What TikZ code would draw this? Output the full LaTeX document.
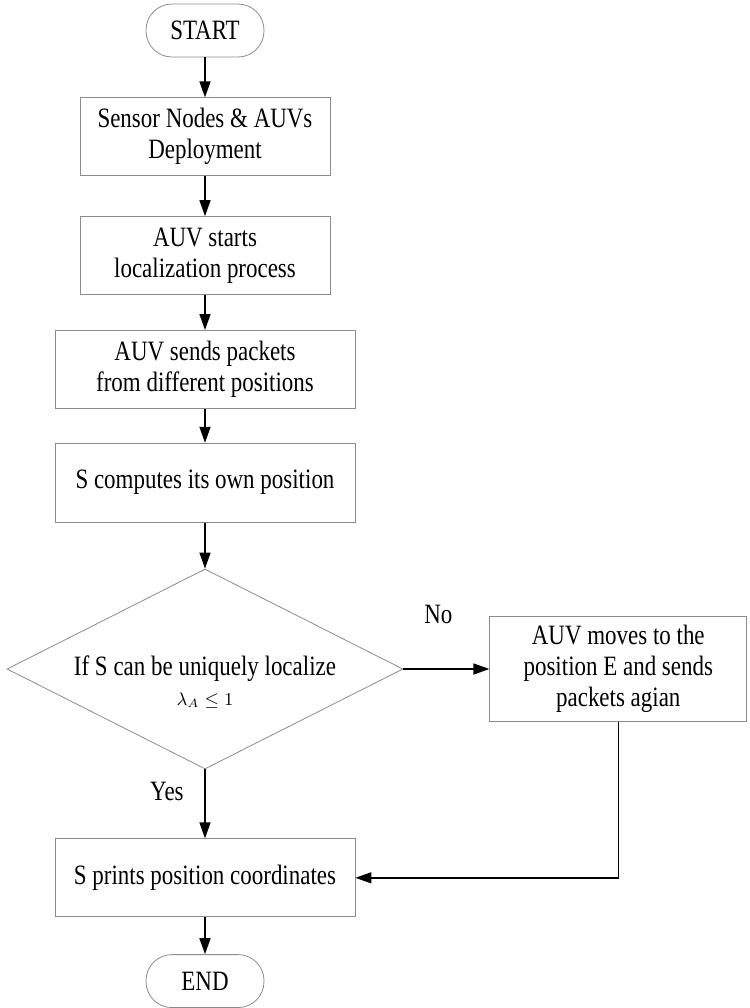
\documentclass[tikz,border=0pt]{standalone}
\usepackage{amsmath,amssymb}
\usepackage{fontspec}
\setmainfont{Liberation Serif}[FakeStretch=0.82]
\usepackage{xcolor}
\usetikzlibrary{shapes,arrows.meta,positioning,calc}
\definecolor{edgegray}{RGB}{140,140,140}

\begin{document}
\begin{tikzpicture}[x=0.5pt,y=0.5pt,font=\fontsize{14}{15.5}\selectfont,term/.style={draw=edgegray,rounded corners=13pt,minimum width=59pt,minimum height=26.5pt,inner sep=0pt},box/.style={draw=edgegray,align=center,minimum height=39pt,inner sep=2pt},dec/.style={draw=edgegray,diamond,aspect=2,minimum width=198pt,minimum height=100pt,inner sep=0pt},arr/.style={-{Triangle[length=8pt,width=5.5pt]},line width=0.7pt}]
\useasboundingbox (0,0) rectangle (750,-1008);
\node[term](start) at (205,-30.5){START};
\node[box,minimum width=125pt,below=20pt of start](deploy){Sensor Nodes \& AUVs\\Deployment};
\node[box,minimum width=125pt,below=20pt of deploy](loc){AUV starts\\localization process};
\node[box,minimum width=150pt,below=17.5pt of loc](send){AUV sends packets\\from different positions};
\node[box,minimum width=150pt,minimum height=39.5pt,below=17pt of send](comp){S computes its own position};
\node[dec,below=23pt of comp](check){};
\node(checktxt) at (check.center){If S can be uniquely localize};
\node[font=\fontsize{9}{11}\selectfont](checkcond) at ([yshift=-16pt]check.center){$\lambda_A \leq 1$};
\node[box,minimum width=128.5pt,minimum height=52.5pt,right=43pt of check](move){AUV moves to the\\position E and sends\\packets agian};
\node[box,minimum width=150pt,below=34.5pt of check](print){S prints position coordinates};
\node[term,below=18.5pt of print](stop){END};
% main flow
\draw[arr](start)--(deploy); \draw[arr](deploy)--(loc); \draw[arr](loc)--(send); \draw[arr](send)--(comp); \draw[arr](comp)--(check);
\draw[arr](check.east)--node[midway,yshift=27.5pt,xshift=-4pt]{No}(move.west);
\draw[arr](check.south)--node[pos=0.32,left=7pt]{Yes}(print.north);
\draw[arr](move.south)|-(print.east); \draw[arr](print)--(stop);
\end{tikzpicture}
\end{document}
